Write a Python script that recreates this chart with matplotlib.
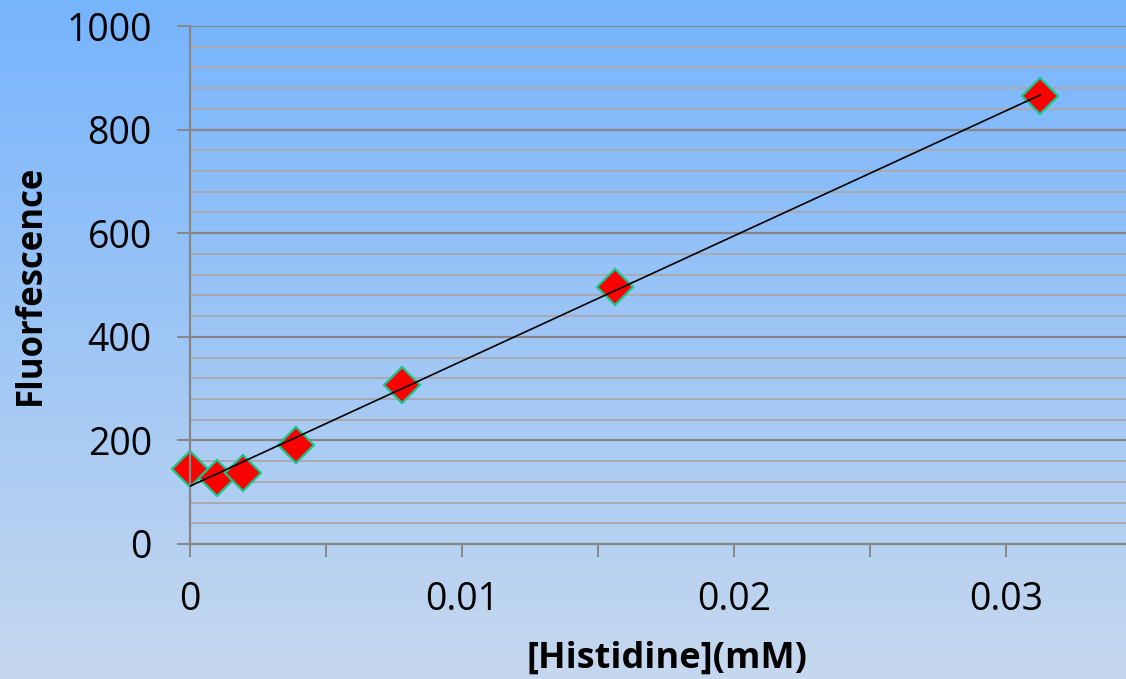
import numpy as np
import matplotlib
matplotlib.use("Agg")
import matplotlib.pyplot as plt
from matplotlib.colors import LinearSegmentedColormap
from matplotlib.ticker import MultipleLocator, FixedLocator

# Data
histidine = [0.0, 0.0009766, 0.001953, 0.003906, 0.0078125, 0.015625, 0.03125]
fluorescence = [145, 127, 137, 191, 307, 496, 865]
x_ticks = [0, 0.01, 0.02, 0.03]
x_tick_labels = ["0", "0.01", "0.02", "0.03"]
y_ticks = [0, 200, 400, 600, 800, 1000]

plt.rcParams['font.family'] = ['Open Sans', 'DejaVu Sans']

W, H = 1126, 679
fig = plt.figure(figsize=(W / 100, H / 100), dpi=100)

# gradient background
bg = fig.add_axes([0, 0, 1, 1], zorder=-10)
cmap = LinearSegmentedColormap.from_list("bg", ["#76b4fd", "#c6d8ee"])
grad = np.linspace(0, 1, 256).reshape(-1, 1)
bg.imshow(grad, aspect="auto", cmap=cmap, extent=[0, 1, 0, 1], origin="upper")
bg.axis("off")

ax = fig.add_axes([190 / W, (H - 544) / H, (W - 190) / W, (544 - 26) / H])
ax.set_facecolor("none")
ax.set_xlim(0, (W - 190) / 272 * 0.01)
ax.set_ylim(0, 1000)

ax.yaxis.set_major_locator(FixedLocator(y_ticks))
ax.yaxis.set_minor_locator(MultipleLocator(40))
ax.xaxis.set_major_locator(FixedLocator(x_ticks))
ax.set_xticklabels(x_tick_labels)
ax.xaxis.set_minor_locator(MultipleLocator(0.005))

ax.grid(axis="y", which="major", color="#868686", linewidth=1.6, zorder=0)
ax.grid(axis="y", which="minor", color="#a9aab0", linewidth=1.4, zorder=0)
ax.set_axisbelow(True)

for s in ["top", "right"]:
    ax.spines[s].set_visible(False)
for s in ["left", "bottom"]:
    ax.spines[s].set_color("#868686")
    ax.spines[s].set_linewidth(1.6)

ax.tick_params(axis="y", which="major", length=9.5, width=1.4, color="#868686",
               labelsize=27, pad=18)
ax.tick_params(axis="y", which="minor", length=0)
ax.tick_params(axis="x", which="both", length=9.5, width=1.4, color="#868686",
               labelsize=27, pad=17)

# trendline
coef = np.polyfit(histidine, fluorescence, 1)
xs = np.array([min(histidine), max(histidine)])
ax.plot(xs, np.polyval(coef, xs), color="black", linewidth=1.2, zorder=3)

ax.plot(histidine, fluorescence, linestyle="none", marker="D", markersize=18,
        markerfacecolor="#ff0000", markeredgecolor="#14c88c", markeredgewidth=1.6,
        zorder=2, clip_on=False)

ax.set_xlabel("[Histidine](mM)", fontsize=26, fontweight="bold")
ax.set_ylabel("Fluorfescence", fontsize=25, fontweight="bold")
ax.xaxis.label.set_verticalalignment("center")
ax.xaxis.set_label_coords((667.5 - 190) / 936, (544 - 659) / 518)
ax.yaxis.label.set_verticalalignment("center")
ax.yaxis.label.set_horizontalalignment("center")
ax.yaxis.set_label_coords((31 - 190) / 936, (544 - 285) / 518)

fig.savefig("out.png", dpi=100)
